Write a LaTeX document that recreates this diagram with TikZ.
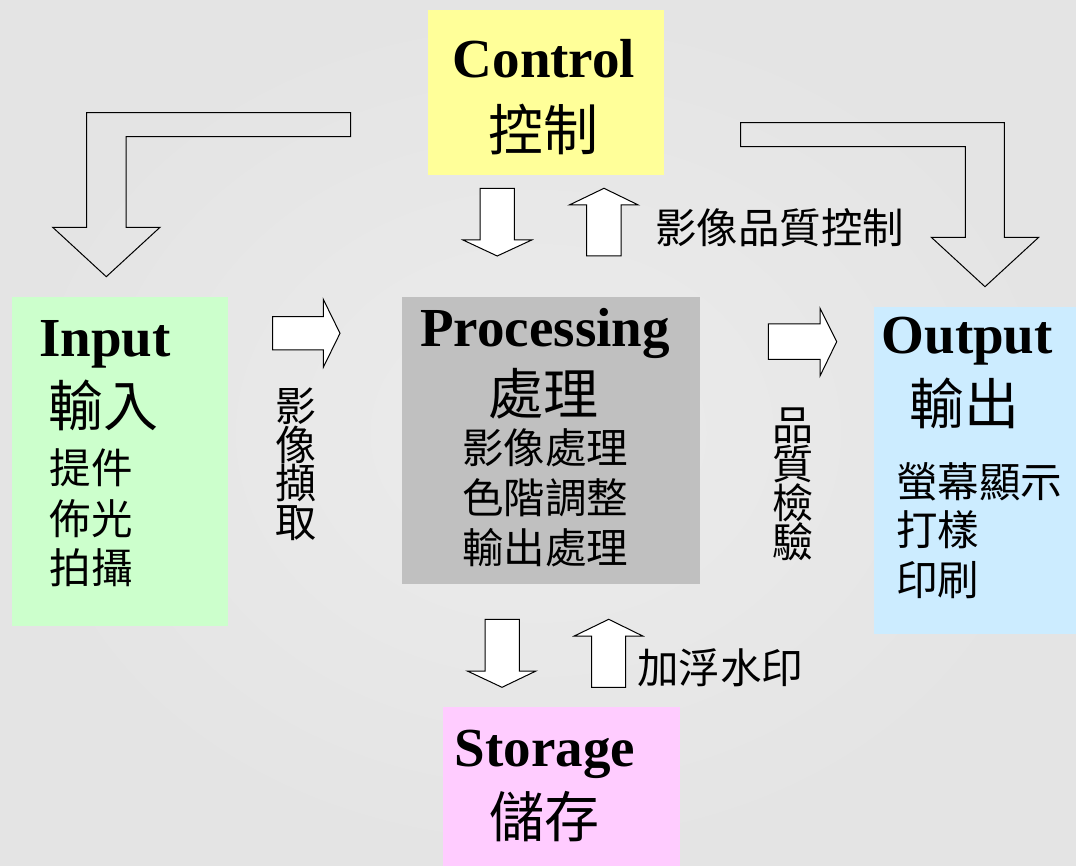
\documentclass[tikz,border=0pt]{standalone}
\usepackage{fontspec}
\setmainfont{Liberation Serif}
\newfontfamily\cjk{Noto Sans CJK TC}
\definecolor{bgin}{HTML}{ECECEC}
\definecolor{bgout}{HTML}{E4E4E4}
\definecolor{ctrlc}{HTML}{FFFF99}
\definecolor{inc}{HTML}{CCFFCC}
\definecolor{procc}{HTML}{C0C0C0}
\definecolor{outc}{HTML}{CCECFF}
\definecolor{storc}{HTML}{FFCCFF}
\tikzset{
  panel/.style={draw=none, inner sep=0pt, outer sep=0pt},
  title/.style={font=\bfseries\fontsize{55}{60}\selectfont, anchor=base, inner sep=0pt},
  bigcjk/.style={font=\cjk\fontsize{55}{60}\selectfont, inner sep=0pt},
  smallcjk/.style={font=\cjk\fontsize{41.5}{45}\selectfont, inner sep=0pt},
  vertcjk/.style={font=\cjk\fontsize{41}{38.75}\selectfont, inner sep=0pt, align=center},
  blk/.style={draw=black, fill=white, line width=1pt, line join=miter},
  bent/.style={draw=black, line width=1pt, line join=miter}
}
\begin{document}
\begin{tikzpicture}[x=1pt,y=-1pt]
\useasboundingbox (0,0) rectangle (1076,866);
\shade[inner color=bgin, outer color=bgout] (0,0) rectangle (1076,866);

% panels
\node[panel, fill=ctrlc, minimum width=236pt, minimum height=165pt] (control) at (546,92.5) {};
\node[panel, fill=inc, minimum width=216pt, minimum height=329pt] (input) at (120,461.5) {};
\node[panel, fill=procc, minimum width=298pt, minimum height=287pt] (proc) at (551,440.5) {};
\node[panel, fill=outc, minimum width=202pt, minimum height=327pt] (output) at (975,470.5) {};
\node[panel, fill=storc, minimum width=237pt, minimum height=159pt] (storage) at (561.3,786.5) {};

% control text
\node[title] (ctrlT) at (544,78) {Control};
\node[bigcjk] (ctrlC) at (543.3,129.2) {控制};

% input text
\node[title, anchor=base west] (inT) at (39,357) {Input};
\node[bigcjk] (inC) at (103.3,405) {輸入};
\node[smallcjk, anchor=west] (in1) at (49.5,468) {提件};
\node[smallcjk, anchor=west] (in2) at (49.5,518.3) {佈光};
\node[smallcjk, anchor=west] (in3) at (49.5,567.5) {拍攝};

% processing text
\node[title] (procT) at (545,346.7) {Processing};
\node[bigcjk] (procC) at (543.3,394) {處理};
\node[smallcjk] (p1) at (545,447.5) {影像處理};
\node[smallcjk] (p2) at (545,497.5) {色階調整};
\node[smallcjk] (p3) at (545,547.5) {輸出處理};

% output text
\node[title, anchor=base west] (outT) at (881.5,353.3) {Output};
\node[bigcjk] (outC) at (964.2,403) {輸出};
\node[smallcjk, anchor=west] (o1) at (896,481.7) {螢幕顯示};
\node[smallcjk, anchor=west] (o2) at (896,530) {打樣};
\node[smallcjk, anchor=west] (o3) at (896,580) {印刷};

% storage text
\node[title] (storT) at (545,766) {Storage};
\node[bigcjk] (storC) at (544.2,816.3) {儲存};

% labels
\node[vertcjk] (lblCap) at (296,464.2) {影\\像\\擷\\取};
\node[vertcjk] (lblQC) at (793,484.2) {品\\質\\檢\\驗};
\node[smallcjk] (lblIQC) at (779.5,228) {影像品質控制};
\node[smallcjk] (lblWM) at (720,668) {加浮水印};

% bent arrows
\draw[bent] (350.7,112.7) -- (86.7,112.7) -- (86.7,227.3) -- (52.7,227.3) -- (106.3,276.7) -- (160,227.3) -- (126,227.3) -- (126,136.7) -- (350.7,136.7) -- cycle;
\draw[bent] (740.7,122.7) -- (1004.3,122.7) -- (1004.3,237.3) -- (1038.7,237.3) -- (985,286.7) -- (931.3,237.3) -- (965.3,237.3) -- (965.3,146.7) -- (740.7,146.7) -- cycle;

% control <-> processing
\draw[blk] (480,188.3) -- (514.3,188.3) -- (514.3,240) -- (531.7,240) -- (497.2,256) -- (463,240) -- (480,240) -- cycle;
\draw[blk] (586.7,256) -- (621,256) -- (621,205) -- (638.3,205) -- (604,188.3) -- (569.3,205) -- (586.7,205) -- cycle;

% processing <-> storage
\draw[blk] (485,619.3) -- (519.3,619.3) -- (519.3,671) -- (536,671) -- (502,687.3) -- (467.3,671) -- (485,671) -- cycle;
\draw[blk] (591.7,687.3) -- (625.7,687.3) -- (625.7,636) -- (642.7,636) -- (608.7,619.3) -- (574.3,636) -- (591.7,636) -- cycle;

% right arrows
\draw[blk] (272.7,316.7) -- (323.3,316.7) -- (323.3,299.3) -- (340,333.3) -- (323.3,367.3) -- (323.3,350) -- (272.7,350) -- cycle;
\draw[blk] (768.3,324) -- (820,324) -- (820,308.3) -- (836.7,341.7) -- (820,376) -- (820,359.3) -- (768.3,359.3) -- cycle;
\end{tikzpicture}
\end{document}
